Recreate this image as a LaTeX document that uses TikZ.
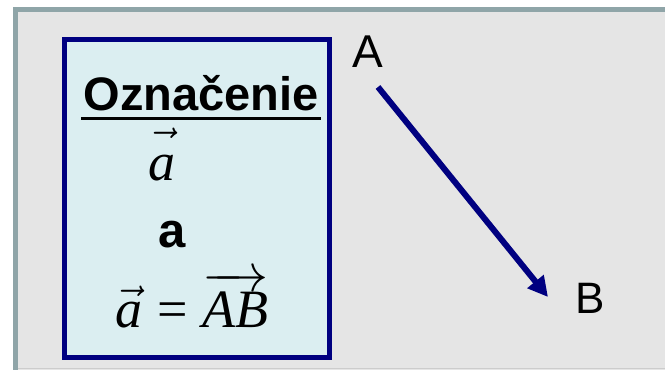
\RequirePackage{fix-cm}
\documentclass[tikz,border=0pt]{standalone}
\usepackage{amsmath,amssymb}
\usepackage{fontspec}
\setmainfont{Liberation Serif}
\setsansfont{Liberation Sans}
\usepackage{tikz}
\usepackage{xcolor}
\usetikzlibrary{arrows.meta,positioning}
\definecolor{panelgray}{RGB}{229,229,229}
\definecolor{panelrim}{RGB}{143,165,168}
\definecolor{notenavy}{RGB}{0,0,128}
\definecolor{notefill}{RGB}{219,238,241}

\begin{document}
\begin{tikzpicture}[x=1pt, y=-1pt, >=Latex,
  every node/.style={inner sep=0pt, anchor=base},
  sanslabel/.style={font=\fontsize{46}{50}\selectfont\sffamily},
  mathline/.style={font=\fontsize{54}{58}\selectfont}]
\useasboundingbox (0,0) rectangle (665,370);
\fill[white] (0,0) rectangle (665,370);
\draw[panelrim, line width=5pt, fill=panelgray] (15.5,9.5) rectangle (690,400);
\draw[gray!40, line width=1pt] (18,368.5) -- (665,368.5);
\node[draw=notenavy, line width=5pt, fill=notefill, anchor=center,
      minimum width=265pt, minimum height=318pt] (box) at (197,198.5) {};
\node[font=\fontsize{47}{50}\selectfont\sffamily\bfseries] (title) at (201,110) {Označenie};
\draw[line width=3pt] ([xshift=-2pt,yshift=-8pt]title.base west) -- ([xshift=2pt,yshift=-8pt]title.base east);
\node[mathline] (veca) at (162,180) {$\vec{\vphantom{A}\textit{a}}$};
\node[font=\fontsize{49}{52}\selectfont\sffamily\bfseries] (bolda) at (172,247) {a};
\node[font=\fontsize{54}{58}\selectfont] (eqn) at (192,327) {$\vec{\textit{a}}\mathrel{\textrm{=}}\overrightarrow{\textit{AB}}$};
\node[sanslabel] (A) at (368,67) {A};
\node[sanslabel, font=\fontsize{44}{48}\selectfont\sffamily] (B) at (590,313) {B};
\coordinate (tail) at (378,87);
\coordinate (head) at (548,297);
\draw[notenavy, line width=6pt, -{Triangle[length=20pt,width=20pt]}] (tail) -- (head);
\end{tikzpicture}
\end{document}
